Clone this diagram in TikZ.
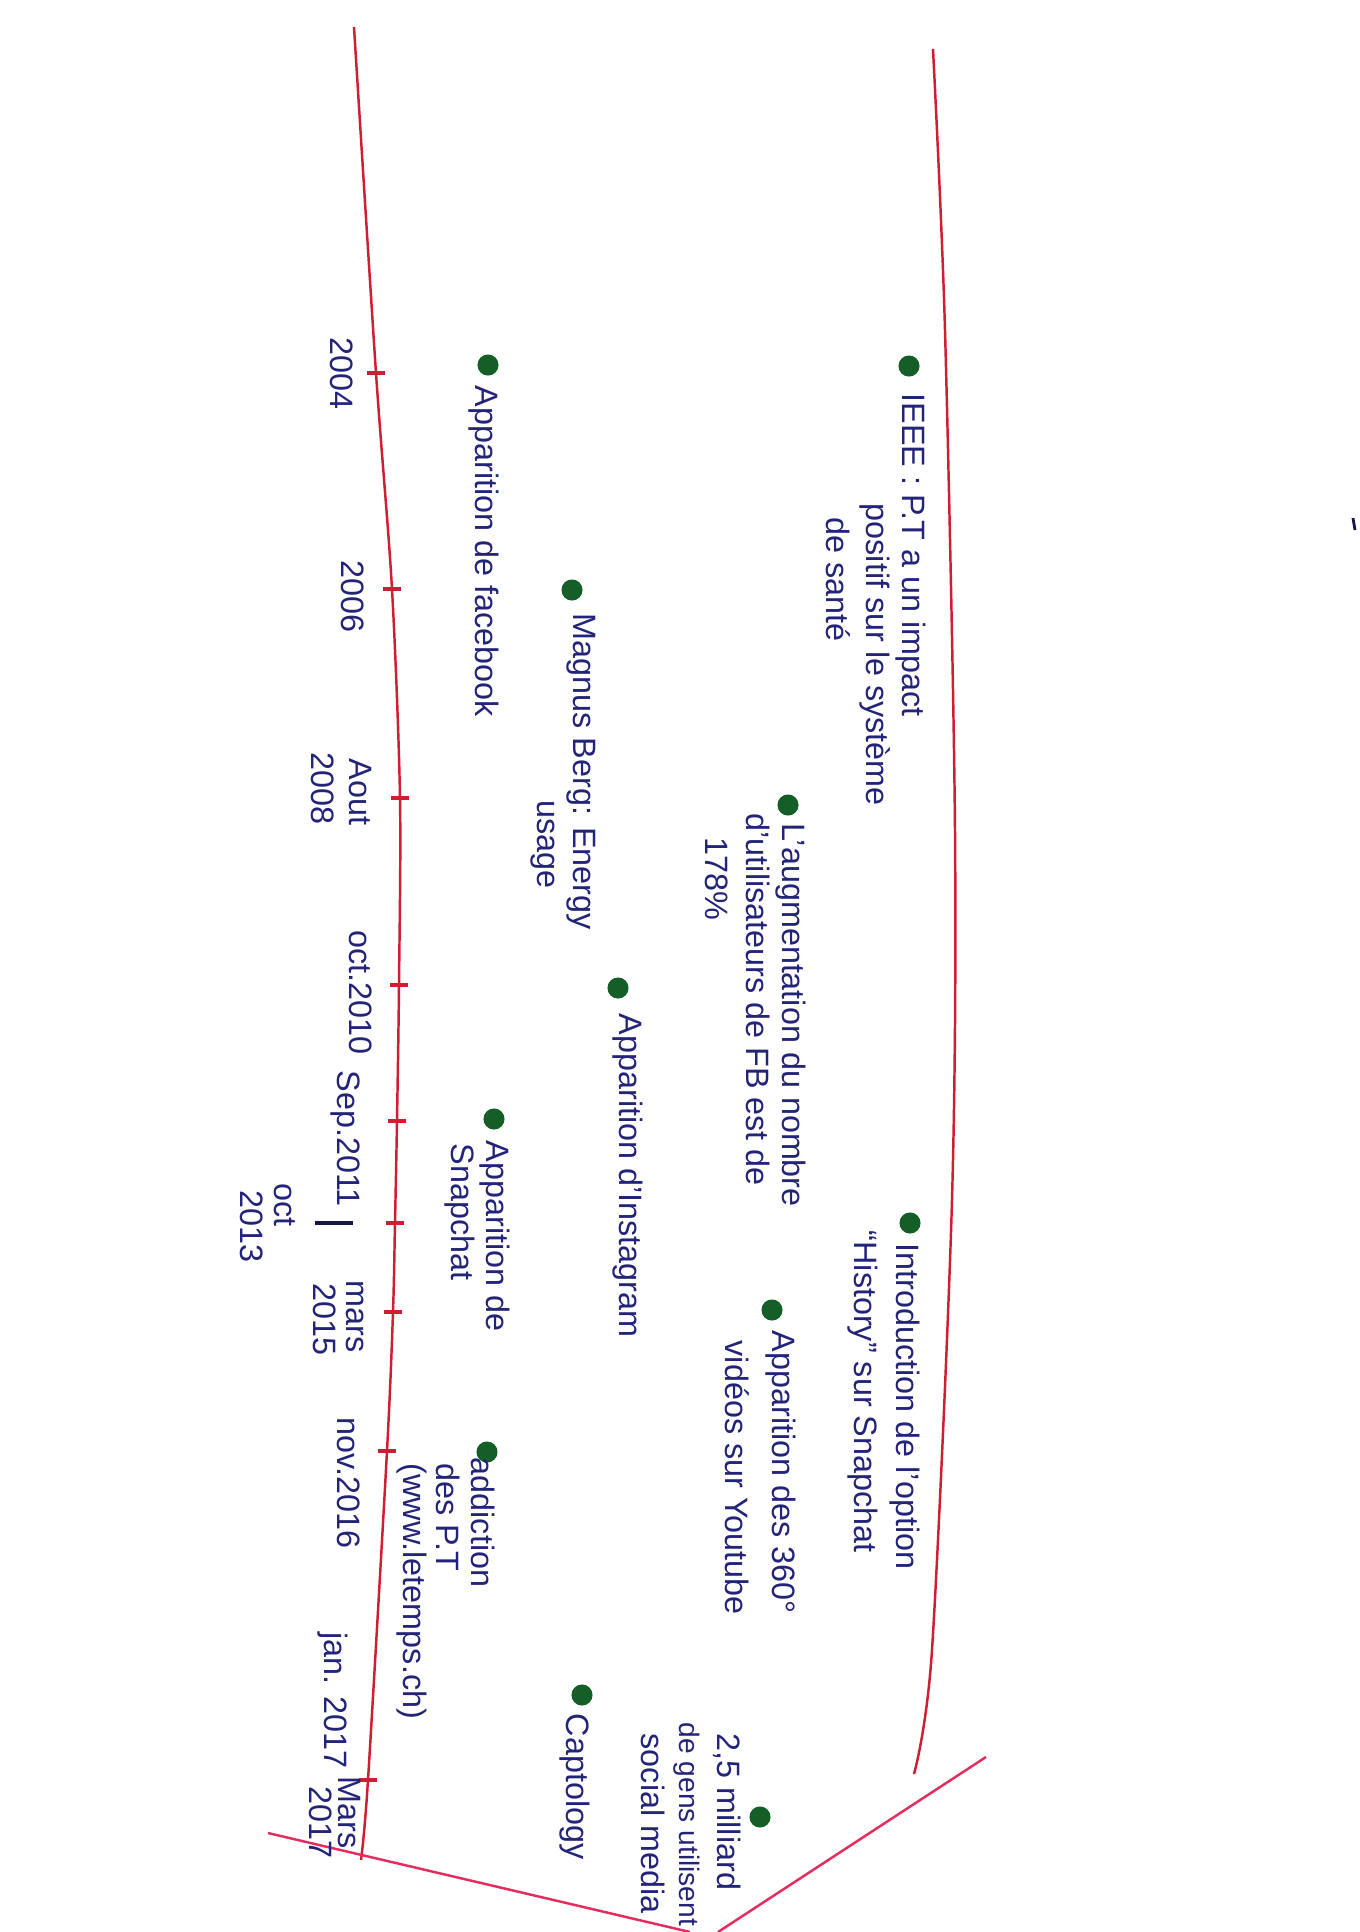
\documentclass[tikz,border=0pt]{standalone}
\usepackage{fontspec}
\setmainfont{Liberation Sans}

\definecolor{inkred}{RGB}{205,30,50}
\definecolor{inkpink}{RGB}{228,45,95}
\definecolor{inkblue}{RGB}{35,35,120}
\definecolor{inkgreen}{RGB}{20,95,40}

\tikzset{
	redline/.style={inkred, line width=0.7pt},
	pinkline/.style={inkpink, line width=0.7pt},
	yearmark/.style={inkred, line width=1.3pt},
	evt/.style={rotate=-90, anchor=west, inner sep=0pt, text=inkblue, font=\fontsize{9.2}{11}\selectfont},
	datum/.style={evt},
	dot/.style={circle, fill=inkgreen, minimum size=6pt, inner sep=0pt}
}

\begin{document}
\begin{tikzpicture}[x=0.01cm, y=-0.01cm]
		%%%	Help Lines
%		\draw [thin, help lines] (0,0) grid[step=100] (1360,1932);
		\clip (0,0) rectangle (1360,1932);
		
		%%% Linee
		\draw[redline] plot[smooth, tension=0.5] coordinates {(354,27) (376,373) (392,589) (400,798) (399,985) (397,1121) (395,1223) (393,1312) (387,1451) (368,1780) (361,1860)};
		\draw[redline] plot[smooth, tension=0.5] coordinates {(933,49) (945,330) (955,830) (952,1200) (932,1650) (914,1774)};
		\draw[pinkline] (986,1757) -- (718,1932);
		\draw[pinkline] (268,1833) -- (690,1932);
		\draw[inkblue!60!black, line width=0.8pt] (1353,518) -- (1355,530);
		
		%%% Tacche sulla linea del tempo
		\foreach \x/\y in {376/373, 392/589, 400/798, 399/985, 397/1121, 395/1223, 393/1312, 387/1451, 368/1780}
		\draw[yearmark] (\x-9,\y) -- (\x+9,\y);
		\draw[inkblue!60!black, line width=1pt] (315,1223) -- (353,1223);
		
		%%% Date
		\node[datum] (d2004) at (342,337) {2004};
		\node[datum] (d2006) at (353,560) {2006};
		\node[datum] (d2008a) at (360,758) {Aout};
		\node[datum] (d2008b) at (323,752) {2008};
		\node[datum] (d2010) at (361,930) {oct.2010};
		\node[datum] (d2011) at (345,1070) {Sep.2011};
		\node[datum] (d2013a) at (285,1183) {oct};
		\node[datum] (d2013b) at (252,1190) {2013};
		\node[datum] (d2015a) at (355,1280) {mars};
		\node[datum] (d2015b) at (325,1283) {2015};
		\node[datum] (d2016) at (349,1417) {nov.2016};
		\node[datum] (d2017a) at (333,1632) {jan. 2017};
		\node[datum] (d2017b) at (349,1776) {Mars};
		\node[datum] (d2017c) at (321,1786) {2017};
		
		%%% Eventi
		\node[dot] (p1) at (909,366) {};
		\node[evt] (e1a) at (911,393) {IEEE : P.T a un impact};
		\node[evt] (e1b) at (875,503) {positif sur le système};
		\node[evt] (e1c) at (838,517) {de santé};
		
		\node[dot] (p2) at (488,365) {};
		\node[evt] (e2) at (484,385) {Apparition de facebook};
		
		\node[dot] (p3) at (572,590) {};
		\node[evt] (e3a) at (581,613) {Magnus Berg: Energy};
		\node[evt] (e3b) at (543,800) {usage};
		
		\node[dot] (p4) at (788,805) {};
		\node[evt] (e4a) at (791,823) {L'augmentation du nombre};
		\node[evt] (e4b) at (758,813) {d'utilisateurs de FB est de};
		\node[evt] (e4c) at (717,837) {178\%};
		
		\node[dot] (p5) at (618,988) {};
		\node[evt] (e5) at (628,1013) {Apparition d'Instagram};
		
		\node[dot] (p6) at (494,1119) {};
		\node[evt] (e6a) at (495,1140) {Apparition de};
		\node[evt] (e6b) at (460,1143) {Snapchat};
		
		\node[dot] (p7) at (910,1223) {};
		\node[evt] (e7a) at (905,1243) {Introduction de l'option};
		\node[evt] (e7b) at (863,1230) {“History” sur Snapchat};
		
		\node[dot] (p8) at (772,1310) {};
		\node[evt] (e8a) at (781,1330) {Apparition des 360°};
		\node[evt] (e8b) at (737,1340) {vidéos sur Youtube};
		
		\node[dot] (p9) at (487,1452) {};
		\node[evt] (e9a) at (483,1457) {addiction};
		\node[evt] (e9b) at (448,1463) {des P.T};
		\node[evt] (e9c) at (412,1463) {(www.letemps.ch)};
		
		\node[dot] (p10) at (582,1695) {};
		\node[evt] (e10) at (575,1713) {Captology};
		
		\node[dot] (p11) at (760,1817) {};
		\node[evt] (e11a) at (727,1733) {2,5 milliard};
		\node[evt, font=\fontsize{8}{10}\selectfont] (e11b) at (687,1722) {de gens utilisent};
		\node[evt] (e11c) at (653,1733) {social media};
	\end{tikzpicture}
\end{document}
